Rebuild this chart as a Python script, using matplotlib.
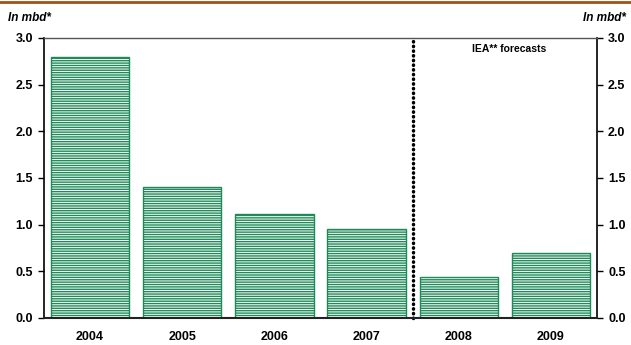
import matplotlib
matplotlib.use("Agg")
import matplotlib.pyplot as plt
import numpy as np

years = ["2004", "2005", "2006", "2007", "2008", "2009"]
values = [2.80, 1.40, 1.11, 0.95, 0.44, 0.70]
yticks = [0.0, 0.5, 1.0, 1.5, 2.0, 2.5, 3.0]
unit_label = "In mbd*"
forecast_label = "IEA** forecasts"

green = "#1e8a58"
plt.rcParams["font.family"] = ["Liberation Sans", "DejaVu Sans"]
plt.rcParams["hatch.color"] = green
plt.rcParams["hatch.linewidth"] = 1.0

fig = plt.figure(figsize=(6.31, 3.45), dpi=100)
ax = fig.add_axes([44 / 631, 27 / 345, 553 / 631, 280 / 345])

x = np.arange(len(years))
ax.bar(x, values, width=0.85, facecolor="white", edgecolor=green,
       hatch="-------", linewidth=1.0)

ax.set_xlim(-0.5, len(years) - 0.5)
ax.set_ylim(0, 3.0)
ax.set_yticks(yticks)
ax.set_yticklabels([f"{v:.1f}" for v in yticks], fontsize=9, fontweight="bold")
ax.set_xticks(x)
ax.set_xticklabels(years, fontsize=9, fontweight="bold")
ax.tick_params(axis="x", length=0, pad=9)
ax.tick_params(axis="y", direction="out", length=4, width=1, pad=4,
               left=True, right=True, labelleft=True, labelright=True)

for side in ("left", "right"):
    ax.spines[side].set_color("black")
    ax.spines[side].set_linewidth(1.2)
ax.spines["bottom"].set_color("#222222")
ax.spines["bottom"].set_linewidth(1.5)
ax.spines["top"].set_color("#555555")
ax.spines["top"].set_linewidth(1.0)

# boundary between actual and forecast years
ax.plot([3.5, 3.5], [0, 3.0], color="black", linestyle=(0, (0.1, 1.25)),
        linewidth=2.5, dash_capstyle="round", clip_on=False)
ax.text(4.55, 2.88, forecast_label, ha="center", va="center",
        fontsize=7.5, fontweight="bold")

fig.text(8 / 631, 1 - 18 / 345, unit_label, ha="left", va="center",
         fontsize=8.5, fontweight="bold", style="italic")
fig.text(626 / 631, 1 - 18 / 345, unit_label, ha="right", va="center",
         fontsize=8.5, fontweight="bold", style="italic")

# rule across the top of the figure
fig.add_artist(plt.Line2D([0, 1], [1 - 1.5 / 345, 1 - 1.5 / 345],
                          color="#a0521a", linewidth=2.0,
                          transform=fig.transFigure))

fig.savefig("out.png", dpi=100)
